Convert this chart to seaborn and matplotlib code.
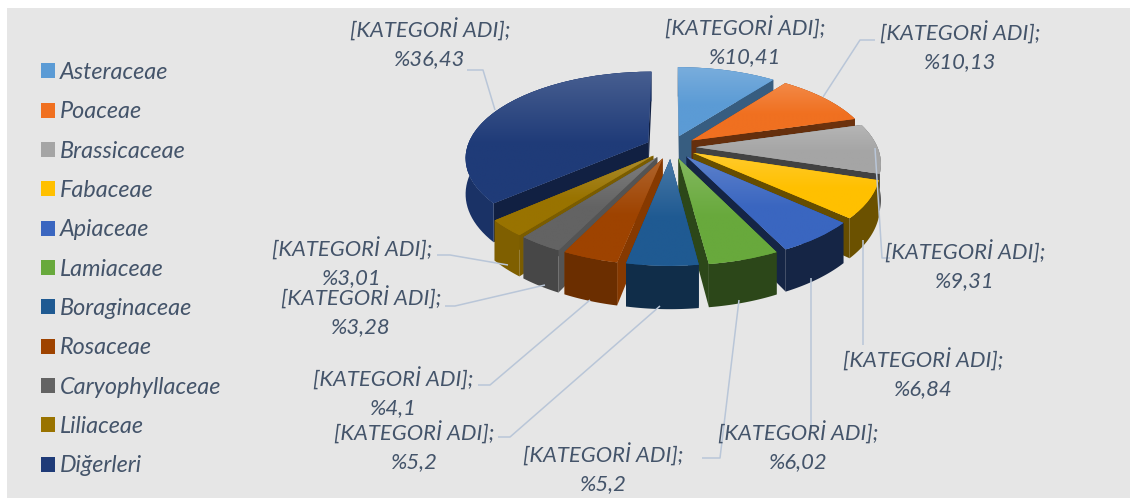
import numpy as np
import matplotlib
matplotlib.use("Agg")
import matplotlib.pyplot as plt
from matplotlib.transforms import Transform
from matplotlib.patches import Patch
from matplotlib.colors import to_rgb
import seaborn as sns

categories = ["Asteraceae", "Poaceae", "Brassicaceae", "Fabaceae", "Apiaceae", "Lamiaceae",
              "Boraginaceae", "Rosaceae", "Caryophyllaceae", "Liliaceae", "Diğerleri"]
values = [10.41, 10.13, 9.31, 6.84, 6.02, 5.2, 5.2, 4.1, 3.28, 3.01, 36.43]
value_labels = ["%10,41", "%10,13", "%9,31", "%6,84", "%6,02", "%5,2", "%5,2", "%4,1", "%3,28", "%3,01", "%36,43"]
colors = ["#5B9BD5", "#F07020", "#A5A5A5", "#FFC000", "#3A66C0", "#68A93C",
          "#1F5A92", "#9E4300", "#636363", "#997300", "#1F3B78"]
cut_shade = [0.6, 0.42, 0.4, 0.4, 0.36, 0.42, 0.5, 0.85, 0.85, 0.8, 0.55]
wall_shade = [0.6, 0.45, 0.42, 0.42, 0.36, 0.42, 0.5, 0.68, 0.72, 0.83, 0.85]
label_pos = [(745, 28), (960, 33), (965, 252), (923, 360), (798, 433), (603, 455),
             (414, 433), (393, 379), (361, 298), (352, 249), (430, 30)]
leaders = [None,
           [(875, 40), (860, 40), (823, 97)],
           [(875, 148), (882, 258), (890, 258)],
           [(863, 240), (863, 345)],
           [(811, 278), (811, 425)],
           [(739, 300), (720, 458), (702, 458)],
           [(660, 306), (510, 437), (498, 437)],
           [(590, 300), (490, 385), (478, 385)],
           [(545, 285), (455, 306), (445, 306)],
           [(508, 265), (450, 255), (437, 255)],
           [(467, 70), (483, 70), (495, 110)]]

CX, CY, RX, RY, K, H = 671.0, 147.0, 181.0, 84.0, 0.17, 35.0
EXPLODE = 0.14
TEXT = "#44546A"
LINE = "#B9C6D8"
BG = "#E6E6E6"

sns.set_theme(style="white")
plt.rcParams["font.family"] = ["Lato", "DejaVu Sans"]


def project(x, y, z=0.0):
    x, y = np.asarray(x, float), np.asarray(y, float)
    w = 1 + K * y
    return CX + RX * x / w, CY + (-RY * y + H * z) / w


class Perspective(Transform):
    input_dims = output_dims = 2

    def transform_non_affine(self, xy):
        xy = np.asarray(xy, float)
        return np.column_stack(project(xy[:, 0], xy[:, 1]))


fig = plt.figure(figsize=(11.3, 4.98), dpi=100, facecolor="white")
ax = fig.add_axes([0, 0, 1, 1])
palette = sns.color_palette(colors)
wedges, _ = ax.pie(values, colors=palette, startangle=90, counterclock=False,
                   explode=[EXPLODE] * len(values), wedgeprops={"linewidth": 0})
ax.set_aspect("auto")
persp = Perspective()


def dark(c, f):
    return tuple(np.array(to_rgb(c)) * f)


order = sorted(range(len(values)),
               key=lambda i: -np.sin(np.radians((wedges[i].theta1 + wedges[i].theta2) / 2)))
for n, i in enumerate(order):
    wd = wedges[i]
    c = palette[i]
    cx0, cy0 = wd.center
    t = np.radians(np.linspace(wd.theta1, wd.theta2, 60))
    ax_, ay_ = cx0 + wd.r * np.cos(t), cy0 + wd.r * np.sin(t)
    z0 = 2 * n + 1
    # radial cut faces
    for end in (0, -1):
        fx = [cx0, ax_[end], ax_[end], cx0]
        fy = [cy0, ay_[end], ay_[end], cy0]
        fz = [0, 0, 1, 1]
        px = []
        py = []
        for a, b, d in zip(fx, fy, fz):
            p, q = project(a, b, d)
            px.append(p)
            py.append(q)
        ax.fill(px, py, color=dark(c, cut_shade[i]), lw=0, zorder=z0)
    # outer wall
    tx, ty = project(ax_, ay_, 0)
    bx, by = project(ax_, ay_, 1)
    ax.fill(np.r_[tx, bx[::-1]], np.r_[ty, by[::-1]], color=dark(c, wall_shade[i]), lw=0, zorder=z0 + 0.1)
    # top surface with gradient
    wd.set_transform(persp + ax.transData)
    wd.set_zorder(z0 + 0.2)
    verts = persp.transform(wd.get_path().vertices)
    x0, y0 = verts.min(axis=0)
    x1, y1 = verts.max(axis=0)
    base = np.array(to_rgb(c))
    lite = base + (1 - base) * 0.18
    s = np.clip(np.linspace(0, 1, 64) / 0.55, 0, 1)[:, None, None]
    grad = lite[None, None, :] * (1 - s) + base[None, None, :] * s
    im = ax.imshow(grad, extent=(x0, x1, y1, y0), origin="upper", aspect="auto",
                   zorder=z0 + 0.3, interpolation="bilinear")
    im.set_clip_path(wd)

ax.set_xlim(0, 1130)
ax.set_ylim(498, 0)
ax.set_axis_on()
ax.set_frame_on(False)
ax.set_xticks([])
ax.set_yticks([])
ax.patch.set_visible(False)
bg = plt.Rectangle((7, 8), 1123, 490, color=BG, lw=0, zorder=-5)
ax.add_patch(bg)

for pts in leaders:
    if pts:
        xs, ys = zip(*pts)
        ax.plot(xs, ys, color=LINE, lw=1.1, zorder=60, solid_capstyle="butt")

for (x, y), lab in zip(label_pos, value_labels):
    ax.text(x, y, "[KATEGORİ ADI];", ha="center", va="center", style="italic",
            fontsize=15.8, color=TEXT, zorder=70)
    ax.text(x, y + 29, lab, ha="center", va="center", style="italic",
            fontsize=15.8, color=TEXT, zorder=70)

handles = [Patch(color=c, lw=0) for c in palette]
ax.legend(handles, categories, loc="upper left", bbox_to_anchor=(41 / 1130, 1 - 62 / 498),
          bbox_transform=fig.transFigure, frameon=False, labelcolor=TEXT,
          prop={"style": "italic", "size": 16.8, "family": ["Lato", "DejaVu Sans"]},
          handlelength=0.6, handleheight=0.6, handletextpad=0.21, labelspacing=0.786,
          borderpad=0, borderaxespad=0)

fig.savefig("out.png", dpi=100)
